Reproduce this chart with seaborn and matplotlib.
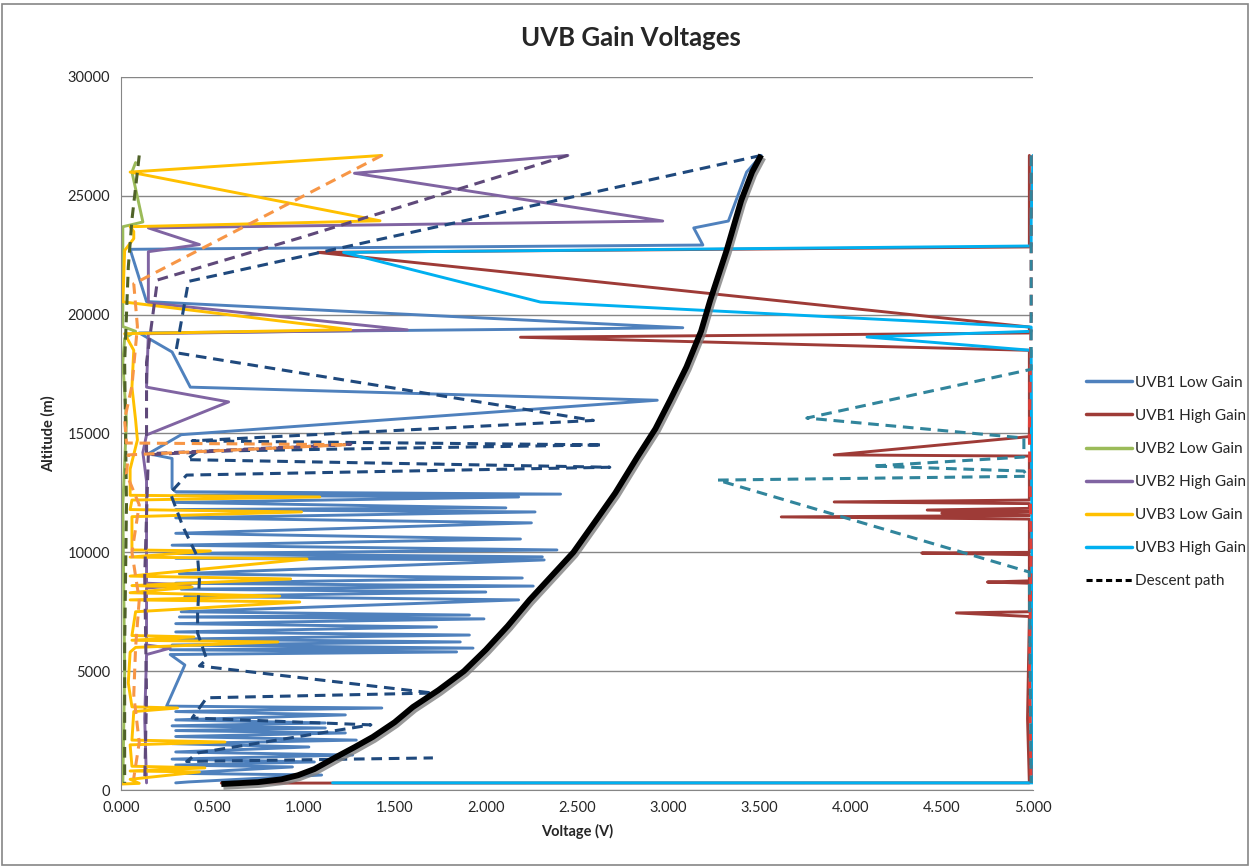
import matplotlib
matplotlib.use('Agg')
import matplotlib.pyplot as plt
import matplotlib.patheffects as pe
from matplotlib.lines import Line2D
from matplotlib.patches import Rectangle
import seaborn as sns
import pandas as pd

# ---- data (voltage V, altitude m), in flight order ----
uvb1_low_v = [0.30, 0.37, 1.10, 0.30, 0.94, 0.30, 1.06, 0.28, 1.27, 0.30, 1.03, 0.28, 1.29, 0.30, 1.23, 0.30,
              1.12, 0.28, 1.12, 0.30, 1.23, 0.30, 1.43, 0.25, 0.35, 0.27,
              1.84, 0.27, 1.93, 0.28, 1.86, 0.30, 1.91, 0.30, 1.73, 0.30, 1.99, 0.32, 1.91, 0.33, 2.18, 0.35,
              2.00, 0.33, 2.26, 0.30, 2.20, 0.32, 2.32, 0.30, 2.31, 0.30, 2.39, 0.28, 2.19, 0.30, 2.25, 0.30,
              2.27, 0.30, 2.11, 0.30, 2.18, 0.30, 2.41, 0.30,
              0.28, 0.28, 0.15, 0.33, 2.94, 0.38, 0.28, 0.10, 3.08, 0.14, 0.05, 3.19, 3.14, 3.33, 3.43, 3.51]
uvb1_low_alt = [300, 340, 630, 700, 970, 1050, 1180, 1300, 1470, 1600, 1810, 1950, 2100, 2250, 2400, 2500,
                2610, 2700, 2820, 2950, 3160, 3300, 3450, 3530, 5260, 5700,
                5810, 5900, 5970, 6100, 6230, 6350, 6520, 6650, 6860, 7000, 7200, 7280, 7360, 7500, 8000, 8150,
                8330, 8450, 8580, 8700, 8920, 9100, 9680, 9750, 9810, 9950, 10100, 10300, 10560, 10800, 11240, 11450,
                11700, 11800, 11870, 12100, 12330, 12400, 12450, 12550,
                12700, 13950, 14150, 14950, 16400, 16950, 18430, 19230, 19450, 20550, 22750, 22930, 23650, 23940, 26000, 26700]
uvb1_low_desc_v = [3.51, 0.37, 0.30, 2.59, 0.39, 2.64, 0.42, 0.36, 2.68, 0.36, 0.27, 0.34, 0.42, 0.43, 0.42, 0.42,
                   0.47, 0.43, 1.71, 0.47, 0.39, 1.37, 0.42, 0.36, 1.71]
uvb1_low_desc_alt = [26700, 21400, 18400, 15550, 14690, 14520, 14250, 13900, 13580, 13250, 12500, 11070, 9800, 8840, 7450, 6600,
                     5500, 5220, 4080, 3880, 3030, 2740, 1560, 1200, 1350]

uvb1_high_v = [0.55, 4.98, 4.97, 4.98, 4.58, 4.98, 4.98, 4.75, 4.98, 4.98, 4.39, 4.98, 4.98, 3.62, 4.98, 4.50, 4.98,
               4.42, 4.98, 4.98, 3.91, 4.98, 4.98, 3.91, 4.98, 4.98, 2.19, 4.98, 4.98, 1.08, 4.98, 4.98]
uvb1_high_alt = [290, 300, 3000, 7300, 7450, 7500, 8700, 8750, 8800, 9900, 9970, 10000, 11400, 11490, 11550, 11650, 11700,
                 11780, 11850, 12050, 12120, 12200, 14050, 14100, 14870, 18500, 19050, 19230, 19480, 22620, 22850, 26700]
uvb1_high_desc_v = [4.99, 4.99, 4.98, 4.99, 4.98, 4.99]
uvb1_high_desc_alt = [26700, 20000, 15000, 10000, 5000, 300]

uvb2_low_v = [0.01, 0.02, 0.01, 0.03, 0.01, 0.02, 0.08, 0.01, 0.01, 0.12, 0.06, 0.08]
uvb2_low_alt = [300, 5000, 12000, 15500, 18000, 19000, 19300, 19500, 23700, 23900, 26000, 26400]
uvb2_low_desc_v = [0.10, 0.06, 0.04, 0.02, 0.03, 0.02, 0.02]
uvb2_low_desc_alt = [26700, 24000, 22000, 18000, 12000, 6000, 300]

uvb2_high_v = [0.14, 0.13, 0.14, 0.27, 0.14, 0.14, 0.38, 0.14, 0.14, 0.12, 0.14, 0.59, 0.14, 0.15, 1.57, 0.15,
               0.15, 0.43, 0.15, 2.97, 1.28, 2.45]
uvb2_high_alt = [300, 3000, 5700, 5970, 6100, 8500, 8630, 8700, 13000, 14200, 14940, 16330, 16950, 19200, 19360, 20500,
                 22650, 22950, 23650, 23940, 25950, 26700]
uvb2_high_desc_v = [2.45, 0.98, 0.20, 0.14, 0.14, 0.14, 1.26, 0.15, 0.13, 0.14, 0.13]
uvb2_high_desc_alt = [26700, 23230, 21460, 18000, 14950, 14100, 14550, 14150, 9000, 4000, 300]

uvb3_low_v = [0.00, 0.10, 0.05, 0.43, 0.05, 0.46, 0.06, 0.05, 0.57, 0.06, 0.07, 0.31, 0.06, 0.04, 0.05, 0.08,
              0.86, 0.06, 0.40, 0.06, 0.08, 0.98, 0.05, 0.87, 0.05, 0.39, 0.06, 0.93, 0.05, 1.02, 0.05, 0.49,
              0.06, 0.06, 0.99, 0.05, 0.06, 1.09, 0.05, 0.05, 0.09, 0.08, 0.06, 0.07, 0.02, 1.26, 0.01, 0.02,
              0.07, 0.07, 0.05, 1.42, 0.05, 1.43]
uvb3_low_alt = [250, 280, 450, 760, 800, 930, 1000, 1900, 2020, 2100, 3300, 3450, 3500, 4500, 5800, 6000,
                6230, 6300, 6440, 6500, 7500, 7910, 8000, 8160, 8300, 8540, 8600, 8880, 9000, 9720, 9800, 10060,
                10100, 11500, 11700, 11800, 12200, 12330, 12400, 13500, 14730, 15570, 16950, 18500, 19200, 19370, 20540, 22700,
                23200, 23500, 23700, 23950, 26000, 26700]
uvb3_low_desc_v = [1.43, 0.07, 0.09, 0.06, 0.02, 0.03, 1.24, 0.04, 0.03, 0.10, 0.06, 0.10, 0.08, 0.07, 0.10, 0.07]
uvb3_low_desc_alt = [26700, 21300, 19500, 17000, 15600, 14600, 14530, 14100, 13300, 12000, 10000, 8000, 6000, 4000, 2000, 500]

uvb3_high_v = [1.16, 5.00, 4.99, 4.09, 4.99, 4.99, 2.30, 1.22, 4.99, 4.99, 5.00]
uvb3_high_alt = [300, 300, 18500, 19060, 19300, 19480, 20530, 22620, 22890, 24000, 26700]
uvb3_high_desc_v = [4.99, 4.99, 3.76, 4.95, 4.95, 4.12, 4.95, 4.97, 3.27, 4.98, 4.99]
uvb3_high_desc_alt = [26700, 17700, 15650, 14810, 14010, 13630, 13420, 13200, 13040, 9170, 300]

curve_v = [0.55, 0.75, 0.88, 0.97, 1.06, 1.18, 1.28, 1.38, 1.50, 1.60, 1.74, 1.88, 2.00, 2.12, 2.24, 2.36,
           2.48, 2.60, 2.71, 2.83, 2.93, 3.01, 3.10, 3.18, 3.23, 3.32, 3.40, 3.46, 3.51]
curve_alt = [250, 330, 450, 620, 880, 1390, 1800, 2230, 2850, 3490, 4200, 5000, 5900, 6900, 8000, 9000,
             10000, 11300, 12500, 14000, 15200, 16400, 17800, 19300, 20600, 22700, 24800, 26000, 26720]

labels = ['UVB1 Low Gain', 'UVB1 High Gain', 'UVB2 Low Gain', 'UVB2 High Gain', 'UVB3 Low Gain', 'UVB3 High Gain']
colors = ['#4F81BD', '#9E3B37', '#9BBB59', '#8064A2', '#FFC000', '#00B0F0']
desc_colors = ['#1F497D', '#E0403A', '#4F6228', '#5F497A', '#F79646', '#31859C']

ascent = [(uvb1_low_v, uvb1_low_alt), (uvb1_high_v, uvb1_high_alt), (uvb2_low_v, uvb2_low_alt),
          (uvb2_high_v, uvb2_high_alt), (uvb3_low_v, uvb3_low_alt), (uvb3_high_v, uvb3_high_alt)]
descent = [(uvb1_low_desc_v, uvb1_low_desc_alt), (uvb1_high_desc_v, uvb1_high_desc_alt),
           (uvb2_low_desc_v, uvb2_low_desc_alt), (uvb2_high_desc_v, uvb2_high_desc_alt),
           (uvb3_low_desc_v, uvb3_low_desc_alt), (uvb3_high_desc_v, uvb3_high_desc_alt)]

sns.set_style('white')
plt.rcParams['font.family'] = ['Lato', 'DejaVu Sans']

fig = plt.figure(figsize=(12.51, 8.67), dpi=100)
ax = fig.add_axes([121 / 1251, 77 / 867, 912 / 1251, 713 / 867])

# ascent series (solid)
for (v, alt), c, lab in zip(ascent, colors, labels):
    df = pd.DataFrame({'Voltage': v, 'Altitude': alt})
    sns.lineplot(data=df, x='Voltage', y='Altitude', sort=False, estimator=None, color=c, lw=2.1, ax=ax)

# descent paths (dashed)
for (v, alt), c in zip(descent, desc_colors):
    df = pd.DataFrame({'Voltage': v, 'Altitude': alt})
    sns.lineplot(data=df, x='Voltage', y='Altitude', sort=False, estimator=None, color=c, lw=2.2,
                 ax=ax).lines[-1].set_dashes([3.5, 2.2])

# black curve with shadow
dfc = pd.DataFrame({'Voltage': curve_v, 'Altitude': curve_alt})
sns.lineplot(data=dfc, x='Voltage', y='Altitude', sort=False, estimator=None, color='black', lw=4.2, ax=ax)
ax.lines[-1].set_path_effects([pe.SimpleLineShadow(offset=(1.5, -2), shadow_color='#808080', alpha=0.8), pe.Normal()])
ax.lines[-1].set_solid_capstyle('butt')
ax.lines[-1].set_solid_joinstyle('round')

ax.set_xlim(0, 5)
ax.set_ylim(0, 30000)
ax.set_xticks([i * 0.5 for i in range(11)])
ax.set_xticklabels([f'{i * 0.5:.3f}' for i in range(11)])
ax.set_yticks(range(0, 30001, 5000))
ax.yaxis.grid(True, color='#868686', lw=1)
ax.xaxis.grid(False)
ax.set_axisbelow(True)
for s in ['top', 'right']:
    ax.spines[s].set_visible(False)
for s in ['left', 'bottom']:
    ax.spines[s].set_color('#868686')
ax.tick_params(axis='both', direction='out', length=5, color='#868686', labelsize=10.5, pad=3)
ax.set_xlabel('Voltage (V)', fontsize=10.5, fontweight='bold', labelpad=6)
ax.set_ylabel('Altitude (m)', fontsize=10.5, fontweight='bold', labelpad=8)
fig.suptitle('UVB Gain Voltages', x=631 / 1251, y=1 - 38 / 867, va='center', fontsize=18.5, fontweight='bold')

handles = [Line2D([0], [0], color=c, lw=2.5) for c in colors]
handles.append(Line2D([0], [0], color='black', lw=2.2, ls=(0, (2, 1.2))))
fig.legend(handles, labels + ['Descent path'], loc='center left', bbox_to_anchor=(1072 / 1251, 1 - 482 / 867),
           frameon=False, fontsize=11, labelspacing=1.25, handlelength=3.0, handletextpad=0.2)

fig.patches.append(Rectangle((2 / 1251, 2 / 867), 1246 / 1251, 861 / 867, transform=fig.transFigure,
                             fill=False, edgecolor='#868686', lw=1.2))

fig.savefig('out.png', dpi=100)
